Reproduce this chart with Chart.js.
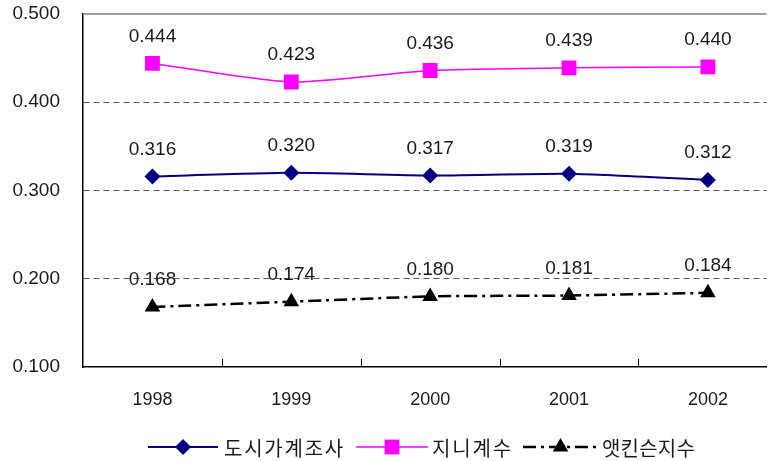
<!DOCTYPE html>
<html><head><meta charset="utf-8">
<script src="https://cdn.jsdelivr.net/npm/chart.js@4/dist/chart.umd.min.js"></script>
<style>html,body{margin:0;padding:0;background:#fff;overflow:hidden}</style>
</head><body>
<canvas id="c" width="777" height="461"></canvas>
<script>
const years = ['1998', '1999', '2000', '2001', '2002'];
const urbanSurvey = [0.316, 0.320, 0.317, 0.319, 0.312];
const gini = [0.444, 0.423, 0.436, 0.439, 0.440];
const atkinson = [0.168, 0.174, 0.180, 0.181, 0.184];
const seriesNames = ['도시가계조사', '지니계수', '앳킨슨지수'];
const yMin = 0.1, yMax = 0.5, yStep = 0.1;

const NUM_FONT = '"Liberation Sans", Arial, sans-serif';
const KR_FONT = '"Noto Sans CJK KR", sans-serif';

const toPts = arr => arr.map((v, i) => ({x: i + 1, y: v}));

const styles = [
  {color: '#000080', width: 2, dash: [], point: 'rectRot', r: 8},
  {color: '#FF00FF', width: 1.5, dash: [], point: 'rect', r: 10.5},
  {color: '#000000', width: 2.5, dash: [13, 5, 3, 5], point: 'triangle', r: 9}
];
const series = [urbanSurvey, gini, atkinson];

function drawMarker(ctx, type, x, y, r, color) {
  ctx.save();
  ctx.fillStyle = color;
  ctx.beginPath();
  if (type === 'rectRot') {
    ctx.moveTo(x, y - r); ctx.lineTo(x + r, y); ctx.lineTo(x, y + r); ctx.lineTo(x - r, y);
  } else if (type === 'rect') {
    const s = r * Math.SQRT1_2;
    ctx.rect(x - s, y - s, 2 * s, 2 * s);
  } else {
    const w = r * Math.sqrt(3) / 2;
    ctx.moveTo(x, y - r); ctx.lineTo(x + w, y + r / 2); ctx.lineTo(x - w, y + r / 2);
  }
  ctx.closePath();
  ctx.fill();
  ctx.restore();
}

const noPad = s => { s.paddingTop = 0; s.paddingBottom = 0; s.paddingLeft = 0; s.paddingRight = 0; };

const decorPlugin = {
  id: 'decor',
  beforeDatasetsDraw(chart) {
    const {ctx, chartArea: a, scales: {x}} = chart;
    ctx.save();
    ctx.strokeStyle = '#808080';
    ctx.lineWidth = 1.5;
    ctx.beginPath();
    ctx.moveTo(a.left, a.top); ctx.lineTo(a.right, a.top);
    ctx.stroke();
    ctx.strokeStyle = '#000';
    ctx.lineWidth = 1;
    for (let i = 1; i < years.length; i++) {
      const px = Math.round(x.getPixelForValue(i + 0.5)) + 0.5;
      ctx.beginPath();
      ctx.moveTo(px, a.bottom); ctx.lineTo(px, a.bottom - 8);
      ctx.stroke();
    }
    ctx.restore();
  },
  afterDatasetsDraw(chart) {
    const {ctx} = chart;
    ctx.save();
    ctx.font = '19px ' + NUM_FONT;
    ctx.fillStyle = '#1a1a1a';
    ctx.textAlign = 'center';
    ctx.textBaseline = 'middle';
    chart.data.datasets.forEach((ds, di) => {
      const meta = chart.getDatasetMeta(di);
      meta.data.forEach((el, i) => {
        ctx.fillText(series[di][i].toFixed(3), el.x, el.y - 27);
      });
    });
    ctx.restore();
  },
  afterDraw(chart) {
    const {ctx} = chart;
    const ly = 447;
    const items = [
      {x1: 148, x2: 218, tx: 224, tw: 121},
      {x1: 356, x2: 428, tx: 432, tw: 81},
      {x1: 523, x2: 598, tx: 602, tw: 93}
    ];
    ctx.save();
    items.forEach((it, i) => {
      const s = styles[i];
      ctx.strokeStyle = s.color;
      ctx.lineWidth = s.width;
      ctx.setLineDash(s.dash);
      ctx.beginPath();
      ctx.moveTo(it.x1, ly); ctx.lineTo(it.x2, ly);
      ctx.stroke();
      ctx.setLineDash([]);
      drawMarker(ctx, s.point, (it.x1 + it.x2) / 2, ly, s.r, s.color);
      ctx.font = '20px ' + KR_FONT;
      ctx.fillStyle = '#1a1a1a';
      ctx.textAlign = 'left';
      ctx.textBaseline = 'middle';
      const txt = seriesNames[i];
      ctx.letterSpacing = '0px';
      const w = ctx.measureText(txt).width;
      const n = Array.from(txt).length;
      const ls = (it.tw - w) / n;
      ctx.letterSpacing = ls.toFixed(2) + 'px';
      ctx.fillText(txt, it.tx, ly + 1);
      ctx.letterSpacing = '0px';
    });
    ctx.restore();
  }
};

new Chart(document.getElementById('c'), {
  type: 'line',
  data: {
    datasets: series.map((arr, i) => ({
      label: seriesNames[i],
      data: toPts(arr),
      borderColor: styles[i].color,
      backgroundColor: styles[i].color,
      borderWidth: styles[i].width,
      borderDash: styles[i].dash,
      pointStyle: styles[i].point,
      pointRadius: styles[i].r,
      pointHoverRadius: styles[i].r,
      pointBorderWidth: 0,
      pointBackgroundColor: styles[i].color,
      tension: 0.2,
      fill: false
    }))
  },
  options: {
    responsive: false,
    animation: false,
    devicePixelRatio: 1,
    layout: {padding: {top: 14, left: 0, right: 0, bottom: 0}},
    plugins: {legend: {display: false}, tooltip: {enabled: false}},
    scales: {
      x: {
        type: 'linear',
        min: 0.5,
        max: 5.422,
        afterBuildTicks: s => { s.ticks = years.map((y, i) => ({value: i + 1})); },
        afterFit: s => { s.height = 94; noPad(s); },
        grid: {display: false, drawTicks: false},
        border: {display: true, color: '#000', width: 1.5},
        ticks: {
          padding: 22,
          maxRotation: 0,
          autoSkip: false,
          color: '#1a1a1a',
          font: {family: NUM_FONT, size: 18},
          callback: v => years[Math.round(v) - 1]
        }
      },
      y: {
        min: yMin,
        max: yMax,
        afterFit: s => { s.width = 83; noPad(s); },
        ticks: {
          stepSize: yStep,
          padding: 23,
          color: '#1a1a1a',
          font: {family: NUM_FONT, size: 19},
          callback: v => Number(v).toFixed(3)
        },
        grid: {
          drawTicks: false,
          lineWidth: 1,
          color: c => {
            const v = Math.round(c.tick.value * 10) / 10;
            return (v > 0.15 && v < 0.45) ? '#555555' : 'rgba(0,0,0,0)';
          }
        },
        border: {display: true, color: '#000', width: 1.5, dash: [6, 4]}
      }
    }
  },
  plugins: [decorPlugin]
});
</script>
</body></html>
